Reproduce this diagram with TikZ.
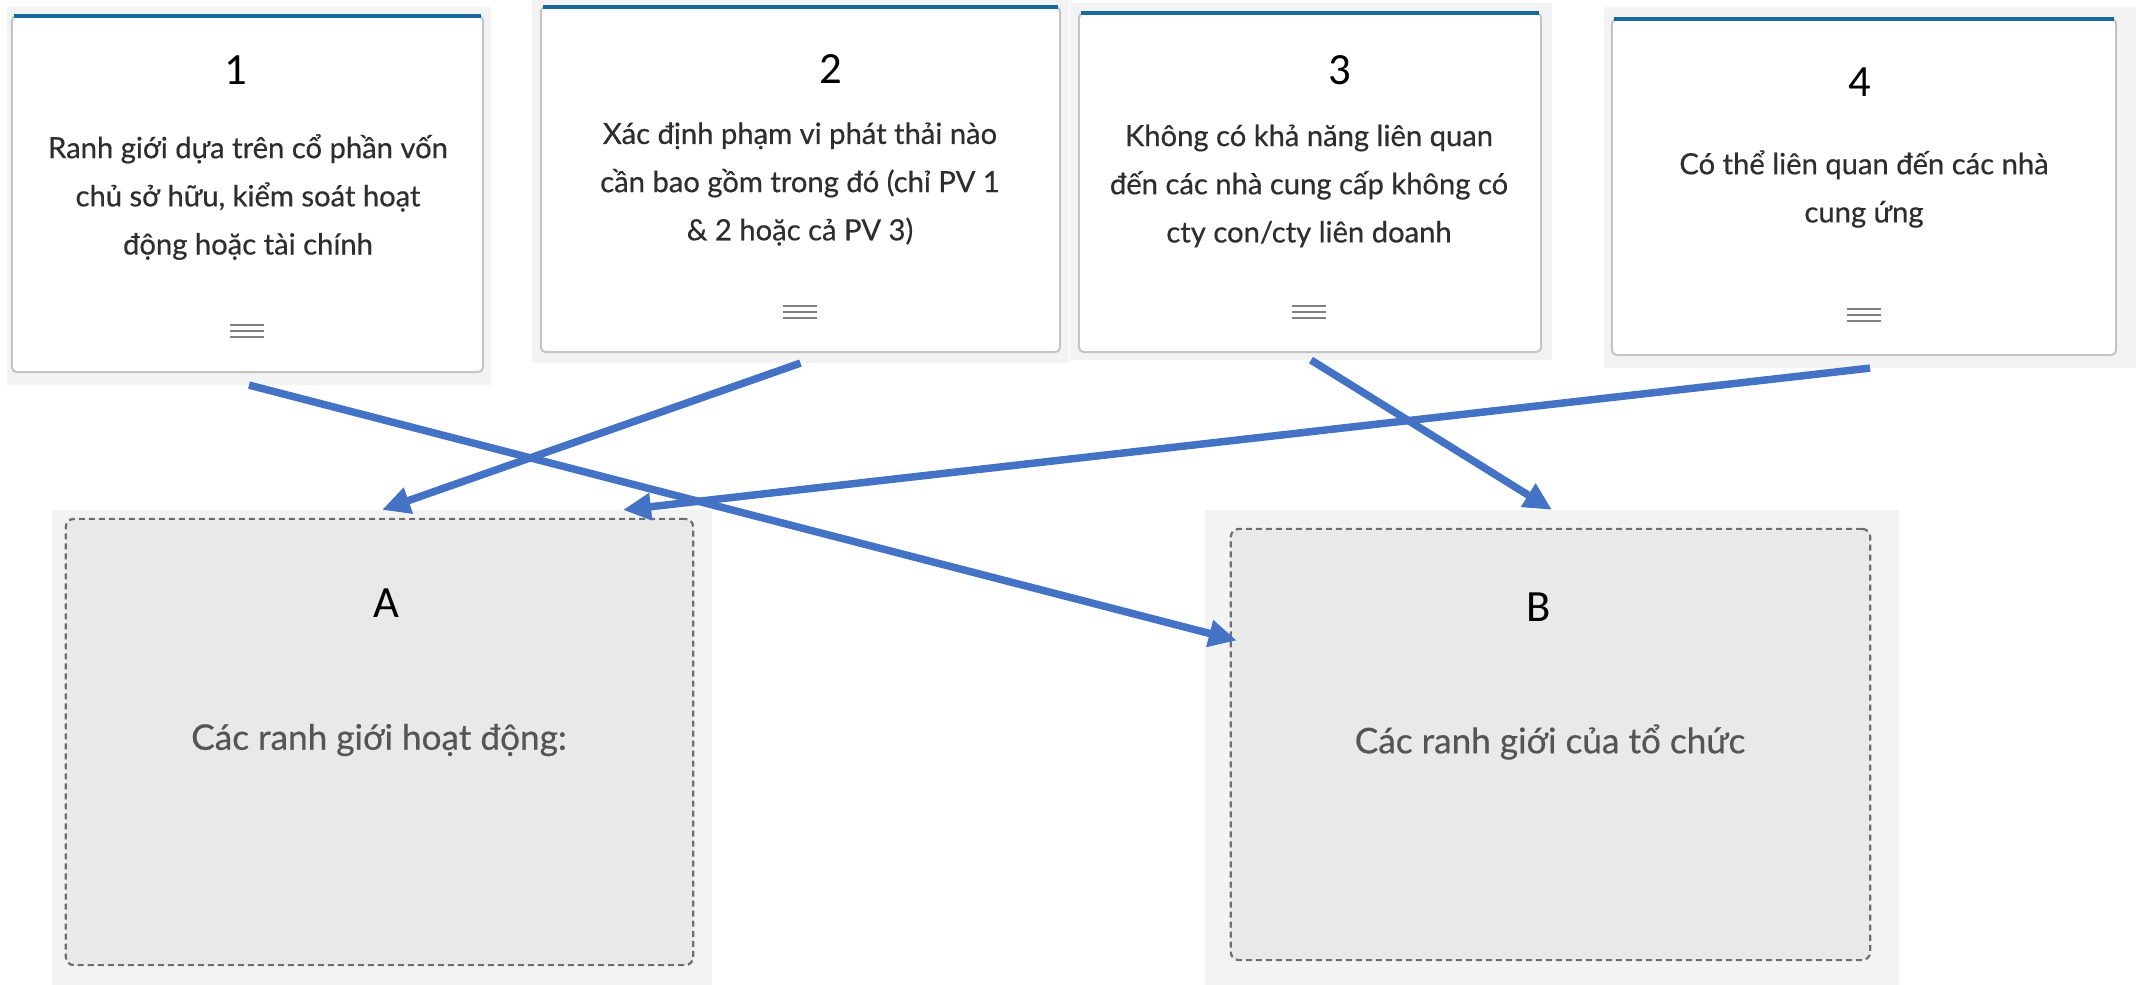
\documentclass[tikz,border=0pt]{standalone}
\usepackage{fontspec}
\setmainfont{Lato}
\newfontfamily\numfont{Carlito}
\newfontfamily\cardfont[FakeBold=0.5]{Lato}
\usetikzlibrary{arrows.meta,calc}
\definecolor{arrowblue}{HTML}{4472C4}
\definecolor{topblue}{HTML}{17699C}
\definecolor{cardbgc}{HTML}{F3F3F3}
\definecolor{cardedge}{HTML}{C4C4C4}
\definecolor{boxfill}{HTML}{E9E9E9}
\definecolor{dashc}{HTML}{6E6E6E}
\definecolor{cardtext}{HTML}{2E2E2E}
\definecolor{boxtext}{HTML}{555555}
\definecolor{iconc}{HTML}{808080}
\tikzset{
  menuicon/.pic={\draw[menuline] (-17,-6) -- (17,-6) (-17,0) -- (17,0) (-17,6) -- (17,6);}
}
\begin{document}
\begin{tikzpicture}[x=0.01cm,y=-0.01cm,
  bgpanel/.style={draw=none,fill=cardbgc,inner sep=0pt,outer sep=0pt},
  card/.style={draw=cardedge,line width=0.02cm,fill=white,rounded corners=0.05cm,inner sep=0pt,outer sep=0pt},
  zone/.style={draw=dashc,dash pattern=on 0.06cm off 0.04cm,line width=0.022cm,fill=boxfill,rounded corners=0.08cm,inner sep=0pt,outer sep=0pt},
  numlabel/.style={font=\numfont\fontsize{12.7}{15}\selectfont,text=black,inner sep=0pt},
  cardtxt/.style={font=\cardfont\fontsize{8.3}{13.7}\selectfont,text=cardtext,align=center,inner sep=0pt},
  zonetxt/.style={font=\cardfont\fontsize{10}{12}\selectfont,text=boxtext,inner sep=0pt},
  topbar/.style={draw=topblue,line width=0.04cm},
  link/.style={draw=arrowblue,line width=0.075cm,-{Triangle[length=0.28cm,width=0.26cm]}},
  menuline/.style={draw=iconc,line width=0.022cm}
]
\useasboundingbox[fill=white] (0,0) rectangle (2136,985);

% ---- cards ----
\node[bgpanel,minimum width=4.84cm,minimum height=3.78cm] (c1bg) at (249,196) {};
\node[card,minimum width=4.71cm,minimum height=3.56cm] (c1) at (247.5,194) {};
\draw[topbar] ([xshift=0.02cm]c1.north west) -- ([xshift=-0.02cm]c1.north east);
\node[numlabel] (n1) at (236,70) {1};
\node[cardtxt] (t1) at (248,197) {Ranh giới dựa trên cổ phần vốn\\chủ sở hữu, kiểm soát hoạt\\động hoặc tài chính};
\pic at (247,331) {menuicon};

\node[bgpanel,minimum width=5.37cm,minimum height=3.63cm] (c2bg) at (800.5,181.5) {};
\node[card,minimum width=5.19cm,minimum height=3.45cm] (c2) at (800.5,179.5) {};
\draw[topbar] ([xshift=0.02cm]c2.north west) -- ([xshift=-0.02cm]c2.north east);
\node[numlabel] (n2) at (831,69) {2};
\node[cardtxt] (t2) at (800,184) {Xác định phạm vi phát thải nào\\cần bao gồm trong đó (chỉ PV 1\\\& 2 hoặc cả PV 3)};
\pic at (800,312) {menuicon};

\node[bgpanel,minimum width=4.82cm,minimum height=3.57cm] (c3bg) at (1311,181.5) {};
\node[card,minimum width=4.62cm,minimum height=3.39cm] (c3) at (1310,182.5) {};
\draw[topbar] ([xshift=0.02cm]c3.north west) -- ([xshift=-0.02cm]c3.north east);
\node[numlabel] (n3) at (1340,70) {3};
\node[cardtxt] (t3) at (1309,186) {Không có khả năng liên quan\\đến các nhà cung cấp không có\\cty con/cty liên doanh};
\pic at (1309,312) {menuicon};

\node[bgpanel,minimum width=5.32cm,minimum height=3.61cm] (c4bg) at (1870,187.5) {};
\node[card,minimum width=5.04cm,minimum height=3.36cm] (c4) at (1864,187) {};
\draw[topbar] ([xshift=0.02cm]c4.north west) -- ([xshift=-0.02cm]c4.north east);
\node[numlabel] (n4) at (1860,82) {4};
\node[cardtxt] (t4) at (1864,189) {Có thể liên quan đến các nhà\\cung ứng};
\pic at (1864,315) {menuicon};

% ---- drop zones ----
\node[bgpanel,minimum width=6.60cm,minimum height=4.75cm] (Abg) at (382,747.5) {};
\node[zone,minimum width=6.27cm,minimum height=4.46cm] (Ain) at (379.5,742) {};
\node[numlabel] (nA) at (386,603) {A};
\node[zonetxt] (tA) at (379,740) {Các ranh giới hoạt động:};

\node[bgpanel,minimum width=6.94cm,minimum height=4.75cm] (Bbg) at (1552,747.5) {};
\node[zone,minimum width=6.39cm,minimum height=4.31cm] (Bin) at (1550.5,744.5) {};
\node[numlabel] (nB) at (1539,607) {B};
\node[zonetxt] (tB) at (1550,742) {Các ranh giới của tổ chức};

% ---- connectors ----
\draw[link] (c1bg.south) -- ($(Bin.west)+(6,-104)$);
\draw[link] (c2bg.south) -- (Abg.north);
\draw[link] (c3bg.south) -- (Bbg.north);
\draw[link] (c4bg.south) -- ($(Abg.north)+(241,0)$);
\end{tikzpicture}
\end{document}
